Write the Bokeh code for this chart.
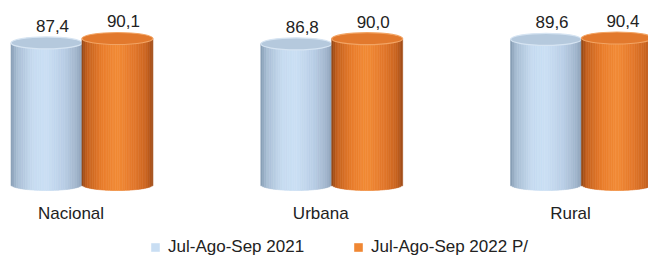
import numpy as np
from bokeh.plotting import figure
from bokeh.models import Range1d, ColumnDataSource, Legend, LegendItem
from bokeh.core.properties import value
from bokeh.embed import file_html
from bokeh.resources import INLINE

# ---- data ----
categories = ["Nacional", "Urbana", "Rural"]
series_names = ["Jul-Ago-Sep 2021", "Jul-Ago-Sep 2022 P/"]
values_2021 = [87.4, 86.8, 89.6]
values_2022 = [90.1, 90.0, 90.4]

# ---- style ----
FONT = "Liberation Sans"
TEXT_COLOR = "#222222"
BAR_OFFSET = 0.142
BAR_WIDTH = 0.284
CAP_H = 7.4          # ellipse height in data units
N_STRIPS = 40

blue_stops = [(0.0, "#8299b2"), (0.08, "#a7bdd3"), (0.3, "#c6dbf0"), (0.5, "#cadff4"),
              (0.75, "#b9cee6"), (0.92, "#a2b6cd"), (1.0, "#8ea2b9")]
orange_stops = [(0.0, "#8f4516"), (0.07, "#c4601e"), (0.3, "#ea7e2c"), (0.5, "#f28b36"),
                (0.75, "#e2762a"), (0.92, "#c8621f"), (1.0, "#9e4c18")]
blue_top = ("#b5c9dd", "#d6e4f2")
orange_top = ("#e2792d", "#f2a464")


def hex2rgb(h):
    h = h.lstrip("#")
    return np.array([int(h[i:i + 2], 16) for i in (0, 2, 4)], dtype=float)


def grad(stops, t):
    ts = [s[0] for s in stops]
    cs = np.array([hex2rgb(s[1]) for s in stops])
    out = []
    for tt in t:
        rgb = [np.interp(tt, ts, cs[:, k]) for k in range(3)]
        out.append("#%02x%02x%02x" % tuple(int(round(c)) for c in rgb))
    return out


def strips(centers, values, stops):
    L, R, B, T, C = [], [], [], [], []
    edges = np.linspace(-1, 1, N_STRIPS + 1)
    mid = (edges[:-1] + edges[1:]) / 2
    cols = grad(stops, (mid + 1) / 2)
    for xc, v in zip(centers, values):
        L += list(xc + edges[:-1] * BAR_WIDTH / 2)
        R += list(xc + edges[1:] * BAR_WIDTH / 2)
        B += list(-(CAP_H / 2) * np.sqrt(1 - mid ** 2))
        T += [v] * N_STRIPS
        C += cols
    return ColumnDataSource(dict(left=L, right=R, bottom=B, top=T, color=C))


def fmt(v):
    return f"{v:.1f}".replace(".", ",")


idx = np.arange(len(categories))
x_2021 = idx - BAR_OFFSET
x_2022 = idx + BAR_OFFSET

p = figure(width=648, height=257, output_backend="svg", toolbar_location=None,
           x_range=Range1d(-0.3263, 2.2683), y_range=Range1d(-45.05, 113.55),
           min_border=0)
p.axis.visible = False
p.grid.visible = False
p.outline_line_color = None
p.background_fill_color = "white"
p.border_fill_color = "white"

renderers = []
for xs, vals, stops, top in [(x_2021, values_2021, blue_stops, blue_top),
                              (x_2022, values_2022, orange_stops, orange_top)]:
    src = strips(xs, vals, stops)
    r = p.quad(left="left", right="right", bottom="bottom", top="top", source=src,
               fill_color="color", line_color="color", line_width=0.6)
    renderers.append(r)
    p.ellipse(x=list(xs), y=vals, width=BAR_WIDTH, height=CAP_H,
              fill_color=top[0], line_color=top[1], line_width=1.2)
    p.text(x=list(xs), y=vals, text=[fmt(v) for v in vals], x_offset=6, y_offset=-17,
           text_align="center", text_baseline="alphabetic", text_font=value(FONT),
           text_font_size="17px", text_color=TEXT_COLOR)

# category labels
p.text(x=list(idx), y=[0] * len(categories), text=categories, x_offset=-11, y_offset=29,
       text_align="center", text_baseline="alphabetic", text_font=value(FONT),
       text_font_size="17px", text_color=TEXT_COLOR)

legend = Legend(items=[LegendItem(label=series_names[0], renderers=[renderers[0]], index=N_STRIPS // 2 - 3),
                       LegendItem(label=series_names[1], renderers=[renderers[1]], index=N_STRIPS // 2 - 3)],
                location=(150, 0), orientation="horizontal",
                glyph_width=10, glyph_height=10, label_height=15,
                label_standoff=8, spacing=49, padding=0, margin=0,
                border_line_alpha=0, background_fill_alpha=0,
                label_text_font=FONT, label_text_font_size="17px",
                label_text_color=TEXT_COLOR)
p.add_layout(legend, "center")

open("out.html", "w").write(file_html(p, INLINE))
